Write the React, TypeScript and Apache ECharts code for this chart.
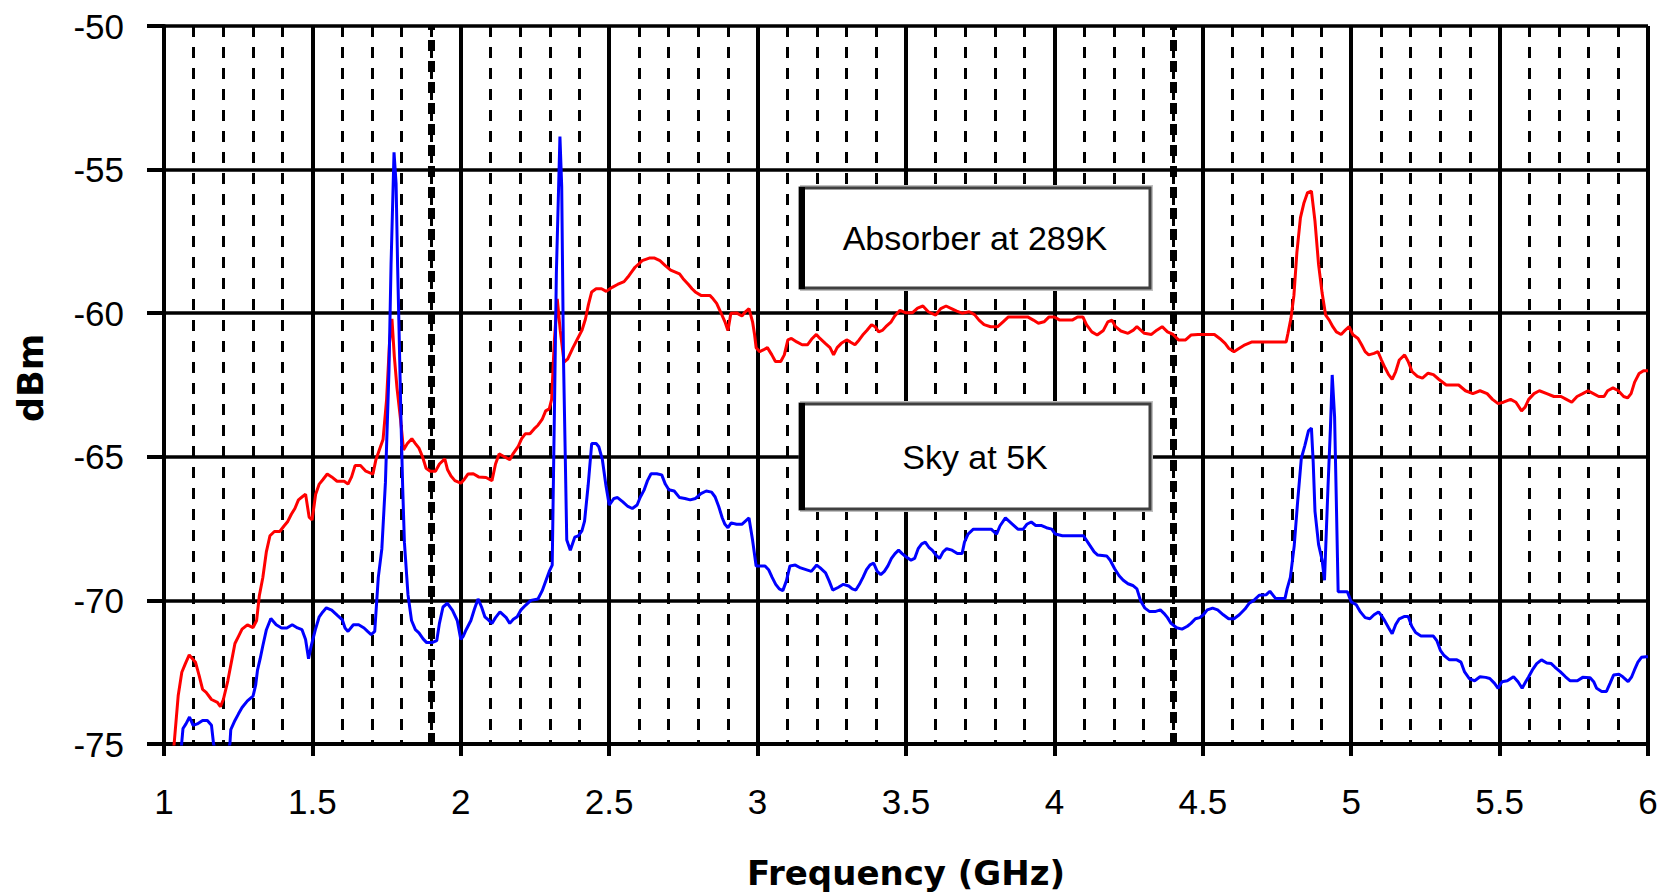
import React, { useEffect, useRef } from "react";
import * as echarts from "echarts";

// ---- Data (frequency in GHz, power in dBm) ----
const xTicks = { min: 1, max: 6, interval: 0.5, minorSplit: 5 };
const yTicks = { min: -75, max: -50, interval: 5 };
const heavyMinorGrid = [1.9, 4.4];

const absorberName = "Absorber at 289K";
const skyName = "Sky at 5K";

const absorberPoints: [number, number][] = [
  [1.03, -75.5], [1.048, -73.3], [1.06, -72.5], [1.072, -72.2], [1.085, -71.9], [1.106, -72.15], [1.118, -72.6],
  [1.13, -73.1], [1.142, -73.2], [1.16, -73.45], [1.18, -73.55], [1.19, -73.7], [1.2, -73.45], [1.215, -72.8],
  [1.227, -72.15], [1.239, -71.5], [1.251, -71.25], [1.263, -71.0], [1.281, -70.85], [1.3, -70.95], [1.312, -70.7],
  [1.321, -69.85], [1.333, -69.2], [1.345, -68.3], [1.357, -67.75], [1.372, -67.6], [1.39, -67.6], [1.405, -67.4],
  [1.417, -67.25], [1.429, -67.0], [1.441, -66.8], [1.453, -66.5], [1.465, -66.4], [1.477, -66.3], [1.489, -67.1],
  [1.499, -67.2], [1.511, -66.3], [1.523, -65.95], [1.535, -65.8], [1.55, -65.6], [1.565, -65.7], [1.583, -65.85],
  [1.607, -65.85], [1.62, -65.95], [1.632, -65.7], [1.644, -65.3], [1.662, -65.3], [1.68, -65.5], [1.692, -65.55],
  [1.704, -65.6], [1.714, -65.1], [1.726, -64.75], [1.738, -64.4], [1.75, -63.0], [1.76, -61.0], [1.768, -60.2],
  [1.776, -61.5], [1.785, -62.6], [1.797, -63.7], [1.807, -64.76], [1.82, -64.54], [1.835, -64.37], [1.847, -64.54],
  [1.859, -64.7], [1.871, -65.0], [1.883, -65.4], [1.897, -65.5], [1.915, -65.5], [1.928, -65.25], [1.946, -65.07],
  [1.955, -65.44], [1.967, -65.67], [1.98, -65.83], [2.0, -65.92], [2.012, -65.78], [2.024, -65.6], [2.042, -65.59],
  [2.06, -65.7], [2.085, -65.72], [2.105, -65.83], [2.117, -65.25], [2.129, -64.9], [2.145, -64.99], [2.165, -65.1],
  [2.177, -64.88], [2.193, -64.65], [2.205, -64.37], [2.217, -64.2], [2.233, -64.2], [2.247, -64.03], [2.26, -63.9],
  [2.274, -63.7], [2.286, -63.4], [2.298, -63.33], [2.306, -63.0], [2.315, -61.0], [2.325, -59.5], [2.335, -60.6],
  [2.348, -61.7], [2.36, -61.6], [2.378, -61.2], [2.393, -60.9], [2.408, -60.6], [2.42, -60.2], [2.43, -59.7],
  [2.441, -59.26], [2.456, -59.15], [2.474, -59.15], [2.49, -59.24], [2.51, -59.1], [2.528, -59.0], [2.55, -58.9],
  [2.563, -58.74], [2.575, -58.57], [2.587, -58.4], [2.6, -58.28], [2.611, -58.17], [2.635, -58.08], [2.653, -58.08],
  [2.671, -58.17], [2.689, -58.34], [2.707, -58.5], [2.737, -58.63], [2.749, -58.8], [2.767, -59.0], [2.779, -59.15],
  [2.79, -59.26], [2.809, -59.38], [2.839, -59.38], [2.85, -59.5], [2.862, -59.66], [2.875, -59.95], [2.89, -60.3],
  [2.9, -60.6], [2.91, -60.0], [2.929, -59.99], [2.947, -60.1], [2.959, -59.95], [2.971, -59.84], [2.983, -60.3],
  [2.99, -60.76], [2.995, -61.2], [3.007, -61.34], [3.019, -61.28], [3.033, -61.2], [3.048, -61.45], [3.06, -61.68],
  [3.078, -61.68], [3.09, -61.45], [3.102, -60.93], [3.114, -60.88], [3.132, -61.0], [3.15, -61.1], [3.168, -61.1],
  [3.184, -60.88], [3.198, -60.74], [3.21, -60.88], [3.228, -61.05], [3.244, -61.2], [3.256, -61.45], [3.268, -61.2],
  [3.282, -61.05], [3.3, -60.93], [3.312, -61.0], [3.328, -61.1], [3.342, -60.93], [3.354, -60.76], [3.368, -60.6],
  [3.384, -60.4], [3.396, -60.47], [3.408, -60.65], [3.42, -60.6], [3.432, -60.47], [3.45, -60.3], [3.462, -60.1],
  [3.48, -59.9], [3.498, -59.98], [3.522, -59.98], [3.539, -59.82], [3.557, -59.75], [3.575, -59.95], [3.6, -60.07],
  [3.617, -59.84], [3.635, -59.75], [3.653, -59.84], [3.671, -59.93], [3.689, -60.0], [3.713, -59.95], [3.731, -60.05],
  [3.746, -60.24], [3.763, -60.4], [3.785, -60.47], [3.809, -60.47], [3.827, -60.3], [3.845, -60.13], [3.88, -60.13],
  [3.91, -60.13], [3.929, -60.24], [3.946, -60.35], [3.965, -60.3], [3.982, -60.13], [4.0, -60.13], [4.018, -60.24],
  [4.036, -60.24], [4.06, -60.24], [4.078, -60.13], [4.096, -60.13], [4.108, -60.4], [4.126, -60.65], [4.144, -60.76],
  [4.165, -60.6], [4.18, -60.3], [4.194, -60.24], [4.206, -60.47], [4.224, -60.62], [4.248, -60.7], [4.266, -60.59],
  [4.278, -60.47], [4.303, -60.7], [4.327, -60.74], [4.345, -60.59], [4.363, -60.47], [4.381, -60.65], [4.4, -60.74],
  [4.418, -60.93], [4.442, -60.93], [4.46, -60.76], [4.484, -60.74], [4.539, -60.74], [4.557, -60.88], [4.575, -61.05],
  [4.587, -61.22], [4.605, -61.34], [4.623, -61.22], [4.642, -61.1], [4.666, -61.0], [4.781, -61.0], [4.787, -60.7],
  [4.797, -60.18], [4.807, -59.38], [4.817, -57.88], [4.829, -56.67], [4.841, -56.15], [4.853, -55.8], [4.866, -55.75],
  [4.878, -56.8], [4.89, -58.3], [4.902, -59.3], [4.914, -60.07], [4.926, -60.24], [4.938, -60.47], [4.95, -60.65],
  [4.966, -60.74], [4.98, -60.59], [4.993, -60.47], [5.005, -60.74], [5.023, -60.88], [5.035, -61.1], [5.047, -61.34],
  [5.059, -61.45], [5.077, -61.4], [5.09, -61.34], [5.102, -61.63], [5.114, -61.9], [5.126, -62.14], [5.138, -62.3],
  [5.15, -62.03], [5.162, -61.63], [5.18, -61.45], [5.192, -61.68], [5.205, -62.03], [5.223, -62.2], [5.24, -62.26],
  [5.259, -62.09], [5.277, -62.14], [5.295, -62.3], [5.32, -62.5], [5.344, -62.5], [5.362, -62.5], [5.385, -62.7],
  [5.41, -62.8], [5.434, -62.7], [5.458, -62.8], [5.476, -63.0], [5.495, -63.15], [5.513, -63.1], [5.537, -63.0],
  [5.555, -63.1], [5.574, -63.4], [5.586, -63.27], [5.598, -63.0], [5.616, -62.8], [5.634, -62.7], [5.659, -62.8],
  [5.683, -62.9], [5.707, -62.9], [5.725, -63.0], [5.743, -63.1], [5.761, -62.9], [5.78, -62.8], [5.798, -62.7],
  [5.816, -62.8], [5.834, -62.9], [5.852, -62.9], [5.864, -62.7], [5.882, -62.6], [5.9, -62.7], [5.918, -62.9],
  [5.931, -62.95], [5.943, -62.8], [5.955, -62.4], [5.97, -62.1], [5.985, -62.0], [6.0, -62.0],
];

const skyPoints: [number, number][] = [
  [1.055, -75.5], [1.064, -74.46], [1.074, -74.3], [1.086, -74.06], [1.098, -74.35], [1.112, -74.3], [1.13, -74.18],
  [1.146, -74.18], [1.16, -74.35], [1.167, -75.0], [1.18, -75.4], [1.21, -75.4], [1.222, -75.0], [1.225, -74.5],
  [1.239, -74.18], [1.251, -73.95], [1.263, -73.73], [1.281, -73.5], [1.3, -73.33], [1.309, -72.94], [1.315, -72.43],
  [1.324, -72.03], [1.333, -71.58], [1.345, -71.02], [1.36, -70.63], [1.378, -70.85], [1.396, -70.96], [1.414, -70.96],
  [1.432, -70.85], [1.45, -70.96], [1.465, -71.02], [1.477, -71.36], [1.487, -72.03], [1.496, -71.58], [1.51, -71.02],
  [1.523, -70.57], [1.535, -70.4], [1.547, -70.26], [1.565, -70.34], [1.586, -70.54], [1.601, -70.68], [1.61, -70.96],
  [1.62, -71.08], [1.638, -70.85], [1.656, -70.85], [1.674, -70.96], [1.686, -71.08], [1.698, -71.19], [1.71, -71.08],
  [1.722, -69.2], [1.734, -68.2], [1.746, -65.9], [1.758, -62.0], [1.765, -58.3], [1.775, -54.4], [1.782, -55.5],
  [1.787, -58.3], [1.792, -60.6], [1.798, -63.5], [1.804, -66.0], [1.81, -67.98], [1.822, -69.8], [1.834, -70.7],
  [1.847, -71.02], [1.859, -71.13], [1.873, -71.34], [1.885, -71.47], [1.903, -71.47], [1.919, -71.4], [1.928, -70.8],
  [1.94, -70.23], [1.955, -70.1], [1.972, -70.35], [1.988, -70.7], [2.0, -71.36], [2.008, -71.25], [2.018, -71.02],
  [2.034, -70.7], [2.046, -70.3], [2.058, -69.95], [2.07, -70.23], [2.081, -70.57], [2.093, -70.68], [2.105, -70.8],
  [2.117, -70.6], [2.132, -70.4], [2.153, -70.6], [2.165, -70.8], [2.177, -70.66], [2.19, -70.57], [2.202, -70.34],
  [2.218, -70.17], [2.236, -70.0], [2.26, -69.95], [2.274, -69.67], [2.286, -69.33], [2.298, -68.99], [2.308, -68.77],
  [2.316, -63.0], [2.322, -58.6], [2.334, -53.85], [2.34, -55.6], [2.346, -61.6], [2.352, -65.0], [2.357, -67.9],
  [2.369, -68.25], [2.384, -67.8], [2.396, -67.75], [2.408, -67.58], [2.417, -67.24], [2.429, -66.0], [2.441, -64.54],
  [2.456, -64.54], [2.465, -64.65], [2.477, -65.1], [2.489, -66.0], [2.5, -66.68], [2.516, -66.45], [2.528, -66.42],
  [2.546, -66.57], [2.563, -66.73], [2.578, -66.8], [2.594, -66.68], [2.605, -66.4], [2.617, -66.17], [2.629, -65.83],
  [2.641, -65.59], [2.66, -65.59], [2.677, -65.63], [2.689, -65.95], [2.701, -66.15], [2.719, -66.19], [2.737, -66.42],
  [2.755, -66.45], [2.773, -66.5], [2.791, -66.45], [2.809, -66.28], [2.827, -66.19], [2.845, -66.23], [2.857, -66.4],
  [2.869, -66.73], [2.881, -67.13], [2.89, -67.35], [2.9, -67.47], [2.911, -67.3], [2.929, -67.35], [2.947, -67.35],
  [2.959, -67.24], [2.971, -67.13], [2.983, -67.9], [2.995, -68.8], [3.025, -68.8], [3.037, -68.93], [3.049, -69.2],
  [3.061, -69.44], [3.073, -69.6], [3.085, -69.66], [3.097, -69.32], [3.109, -68.8], [3.127, -68.77], [3.145, -68.87],
  [3.163, -68.93], [3.181, -68.99], [3.199, -68.77], [3.211, -68.87], [3.229, -69.04], [3.241, -69.32], [3.253, -69.64],
  [3.271, -69.55], [3.289, -69.44], [3.307, -69.5], [3.319, -69.6], [3.331, -69.64], [3.343, -69.44], [3.355, -69.2],
  [3.367, -68.93], [3.379, -68.76], [3.391, -68.7], [3.403, -68.99], [3.415, -69.1], [3.427, -68.99], [3.439, -68.8],
  [3.451, -68.54], [3.463, -68.37], [3.475, -68.25], [3.487, -68.37], [3.5, -68.48], [3.517, -68.6], [3.529, -68.54],
  [3.541, -68.2], [3.553, -68.03], [3.565, -67.97], [3.577, -68.15], [3.589, -68.26], [3.601, -68.42], [3.613, -68.54],
  [3.625, -68.31], [3.637, -68.2], [3.655, -68.25], [3.673, -68.37], [3.689, -68.37], [3.697, -67.97], [3.709, -67.69],
  [3.727, -67.52], [3.757, -67.52], [3.787, -67.52], [3.805, -67.69], [3.817, -67.4], [3.835, -67.13], [3.847, -67.24],
  [3.859, -67.35], [3.877, -67.52], [3.895, -67.52], [3.907, -67.35], [3.922, -67.27], [3.937, -67.39], [3.955, -67.39],
  [3.973, -67.47], [3.991, -67.52], [4.003, -67.69], [4.027, -67.75], [4.063, -67.75], [4.098, -67.75], [4.116, -68.03],
  [4.134, -68.31], [4.146, -68.42], [4.176, -68.45], [4.188, -68.6], [4.203, -68.9], [4.218, -69.14], [4.232, -69.3],
  [4.248, -69.42], [4.264, -69.48], [4.278, -69.6], [4.29, -70.0], [4.305, -70.27], [4.321, -70.39], [4.339, -70.39],
  [4.357, -70.33], [4.369, -70.45], [4.381, -70.6], [4.393, -70.8], [4.412, -70.95], [4.43, -71.0], [4.448, -70.9],
  [4.46, -70.8], [4.475, -70.64], [4.49, -70.6], [4.502, -70.5], [4.515, -70.33], [4.533, -70.27], [4.55, -70.33],
  [4.569, -70.5], [4.587, -70.64], [4.605, -70.64], [4.623, -70.5], [4.642, -70.3], [4.656, -70.1], [4.672, -70.0],
  [4.69, -69.82], [4.714, -69.8], [4.726, -69.68], [4.745, -69.93], [4.777, -69.93], [4.784, -69.6], [4.795, -69.2],
  [4.808, -68.1], [4.82, -66.5], [4.832, -65.05], [4.844, -64.6], [4.856, -64.1], [4.866, -64.0], [4.872, -65.2],
  [4.878, -66.9], [4.89, -68.05], [4.902, -68.6], [4.91, -69.3], [4.914, -68.2], [4.922, -66.0], [4.93, -64.0],
  [4.936, -62.15], [4.944, -63.6], [4.95, -66.6], [4.956, -69.7], [4.987, -69.7], [5.0, -70.05], [5.017, -70.15],
  [5.031, -70.4], [5.047, -70.6], [5.063, -70.64], [5.077, -70.5], [5.092, -70.4], [5.104, -70.56], [5.114, -70.73],
  [5.126, -70.95], [5.138, -71.16], [5.15, -70.84], [5.162, -70.64], [5.18, -70.56], [5.192, -70.56], [5.204, -70.9],
  [5.217, -71.12], [5.235, -71.24], [5.277, -71.24], [5.289, -71.41], [5.301, -71.75], [5.313, -71.92], [5.331, -72.07],
  [5.356, -72.07], [5.37, -72.15], [5.382, -72.49], [5.398, -72.72], [5.416, -72.8], [5.434, -72.66], [5.453, -72.68],
  [5.467, -72.72], [5.483, -72.89], [5.495, -73.06], [5.508, -72.83], [5.526, -72.8], [5.547, -72.66], [5.562, -72.83],
  [5.576, -73.06], [5.588, -72.83], [5.598, -72.66], [5.61, -72.43], [5.625, -72.2], [5.641, -72.07], [5.659, -72.18],
  [5.674, -72.2], [5.686, -72.32], [5.705, -72.49], [5.722, -72.66], [5.738, -72.8], [5.762, -72.8], [5.78, -72.68],
  [5.805, -72.69], [5.817, -72.83], [5.827, -73.06], [5.844, -73.17], [5.86, -73.17], [5.872, -72.89], [5.884, -72.6],
  [5.902, -72.57], [5.915, -72.66], [5.933, -72.83], [5.945, -72.66], [5.954, -72.43], [5.966, -72.15], [5.978, -71.98],
  [5.994, -71.96], [6.0, -71.96],
];

const tickFont = "'Liberation Sans', Arial, sans-serif";
const titleFont = "'DejaVu Sans', 'Liberation Sans', sans-serif";

function legendBox(x: number, y: number, w: number, h: number, label: string) {
  return {
    type: "group",
    z: 100,
    children: [
      { type: "rect", shape: { x: x, y: y - 3, width: w + 3, height: h + 6 }, style: { fill: "#c0c0c0" }, z: 100 },
      { type: "rect", shape: { x: x, y: y, width: w, height: h }, style: { fill: "#ffffff", stroke: "#404040", lineWidth: 3 }, z: 101 },
      { type: "rect", shape: { x: x - 1, y: y - 1, width: 6, height: h + 2 }, style: { fill: "#000000" }, z: 102 },
      {
        type: "text",
        x: x + w / 2,
        y: y + h / 2,
        z: 103,
        style: {
          text: label,
          fill: "#000",
          font: `34px ${tickFont}`,
          textAlign: "center",
          textVerticalAlign: "middle",
        },
      },
    ],
  };
}

export default function App() {
  const ref = useRef<HTMLDivElement>(null);

  useEffect(() => {
    document.body.style.margin = "0";
    if (!ref.current) return;
    const chart = echarts.init(ref.current, null, { renderer: "svg" });

    const option: any = {
      animation: false,
      backgroundColor: "#ffffff",
      grid: { left: 164, right: 17, top: 26, bottom: 150, containLabel: false },
      xAxis: {
        type: "value",
        min: xTicks.min,
        max: xTicks.max,
        interval: xTicks.interval,
        name: "Frequency (GHz)",
        nameLocation: "middle",
        nameGap: 112,
        nameTextStyle: { fontFamily: titleFont, fontWeight: "bold", fontSize: 34, color: "#000" },
        axisLine: { show: true, onZero: false, lineStyle: { color: "#000", width: 4 } },
        axisTick: { show: true, inside: false, length: 12, lineStyle: { color: "#000", width: 4 } },
        axisLabel: { margin: 40, color: "#000", fontSize: 35, fontFamily: tickFont },
        splitLine: { show: true, lineStyle: { color: "#000", width: 4 } },
        minorTick: { show: false, splitNumber: xTicks.minorSplit },
        minorSplitLine: { show: true, lineStyle: { color: "#000", width: 3, type: [11, 10] } },
      },
      yAxis: {
        type: "value",
        min: yTicks.min,
        max: yTicks.max,
        interval: yTicks.interval,
        name: "dBm",
        nameLocation: "middle",
        nameRotate: 90,
        nameGap: 116,
        nameTextStyle: { fontFamily: titleFont, fontWeight: "bold", fontSize: 35, color: "#000", padding: [0, 0, 0, 14] },
        axisLine: { show: true, onZero: false, lineStyle: { color: "#000", width: 4 } },
        axisTick: { show: true, inside: false, length: 17, lineStyle: { color: "#000", width: 4 } },
        axisLabel: { margin: 40, color: "#000", fontSize: 35, fontFamily: tickFont },
        splitLine: { show: true, lineStyle: { color: "#000", width: 3.5 } },
      },
      series: [
        {
          name: absorberName,
          type: "line",
          data: absorberPoints,
          showSymbol: false,
          symbol: "none",
          clip: true,
          z: 3,
          lineStyle: { color: "#ff0000", width: 3 },
          itemStyle: { color: "#ff0000" },
          markLine: {
            silent: true,
            symbol: ["none", "none"],
            label: { show: false },
            lineStyle: { color: "#000", width: 7, type: [11, 10] },
            data: heavyMinorGrid.map((v) => ({ xAxis: v })),
            z: 1,
          },
        },
        {
          name: skyName,
          type: "line",
          data: skyPoints,
          showSymbol: false,
          symbol: "none",
          clip: true,
          z: 4,
          lineStyle: { color: "#0000ff", width: 3 },
          itemStyle: { color: "#0000ff" },
        },
      ],
      graphic: [
        legendBox(800, 188, 350, 100, absorberName),
        legendBox(800, 404, 350, 105, skyName),
      ],
    };

    chart.setOption(option);
    return () => chart.dispose();
  }, []);

  return <div ref={ref} style={{ width: "1665px", height: "895px" }} />;
}
